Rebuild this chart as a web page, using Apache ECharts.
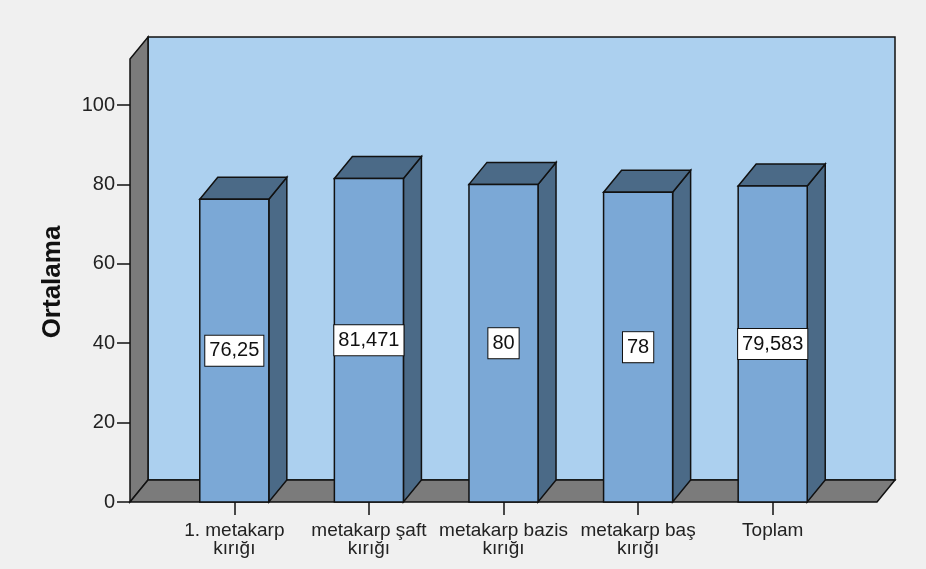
<!DOCTYPE html>
<html>
<head>
<meta charset="utf-8">
<script src="https://cdn.jsdelivr.net/npm/echarts@6/dist/echarts.min.js"></script>
<style>
  html, body { margin: 0; padding: 0; background: #f0f0f0; }
  #chart { width: 926px; height: 569px; }
</style>
</head>
<body>
<div id="chart"></div>
<script>
// Mean score per fracture group
const categories = [
  '1. metakarp\nkırığı',
  'metakarp şaft\nkırığı',
  'metakarp bazis\nkırığı',
  'metakarp baş\nkırığı',
  'Toplam'
];
const means = [76.25, 81.471, 80, 78, 79.583];
const yAxisTitle = 'Ortalama';
const yMin = 0, yMax = 100, yStep = 20;

// 3D look: depth offset of the back planes
const DX = 18, DY = -22;
const FONT = 'Arial, "Liberation Sans", sans-serif';

const COLORS = {
  wallBack: '#acd0ef',
  wallSide: '#7b7b7b',
  barFront: '#7ba8d6',
  barDark: '#4b6a87',
  line: '#111'
};

function renderWalls(params, api) {
  const cs = params.coordSys;
  const x0 = cs.x - 37;                 // front-left corner
  const x1 = cs.x + cs.width + 37;      // front-right corner
  const yBot = api.coord([0, yMin])[1];
  const yTop = api.coord([0, yMax])[1] - 46;
  const lw = 1.5;
  return {
    type: 'group',
    children: [
      { type: 'polygon', shape: { points: [[x0 + DX, yTop + DY], [x1 + DX, yTop + DY], [x1 + DX, yBot + DY], [x0 + DX, yBot + DY]] },
        style: { fill: COLORS.wallBack, stroke: COLORS.line, lineWidth: lw } },
      { type: 'polygon', shape: { points: [[x0, yTop], [x0 + DX, yTop + DY], [x0 + DX, yBot + DY], [x0, yBot]] },
        style: { fill: COLORS.wallSide, stroke: COLORS.line, lineWidth: lw } },
      { type: 'polygon', shape: { points: [[x0, yBot], [x0 + DX, yBot + DY], [x1 + DX, yBot + DY], [x1, yBot]] },
        style: { fill: COLORS.wallSide, stroke: COLORS.line, lineWidth: lw } }
    ]
  };
}

function renderBar(params, api) {
  const idx = api.value(0);
  const v = api.value(1);
  const top = api.coord([idx, v]);
  const bot = api.coord([idx, 0]);
  const band = api.size([1, 0])[0];
  const w = band * 0.513;
  const xl = top[0] - w / 2, xr = top[0] + w / 2;
  const yt = top[1], yb = bot[1];
  const lw = 1.5;
  return {
    type: 'group',
    children: [
      { type: 'polygon', shape: { points: [[xr, yt], [xr + DX, yt + DY], [xr + DX, yb + DY], [xr, yb]] },
        style: { fill: COLORS.barDark, stroke: COLORS.line, lineWidth: lw } },
      { type: 'polygon', shape: { points: [[xl, yt], [xl + DX, yt + DY], [xr + DX, yt + DY], [xr, yt]] },
        style: { fill: COLORS.barDark, stroke: COLORS.line, lineWidth: lw } },
      { type: 'rect', shape: { x: xl, y: yt, width: w, height: yb - yt },
        style: { fill: COLORS.barFront, stroke: COLORS.line, lineWidth: lw } },
      { type: 'text', x: top[0], y: (yt + yb) / 2,
        style: {
          text: String(v).replace('.', ','),
          fill: '#111', fontSize: 20, fontFamily: FONT,
          align: 'center', verticalAlign: 'middle',
          backgroundColor: '#fff', borderColor: '#111', borderWidth: 1,
          padding: [5, 4, 5, 4]
        } }
    ]
  };
}

const chart = echarts.init(document.getElementById('chart'), null, { renderer: 'canvas' });
chart.setOption({
  animation: false,
  backgroundColor: '#f0f0f0',
  grid: { left: 167, right: 86, top: 105, bottom: 67 },
  xAxis: {
    type: 'category',
    data: categories,
    axisLine: { show: false },
    axisTick: { show: true, alignWithLabel: true, length: 13, lineStyle: { color: '#111', width: 1.5 } },
    axisLabel: { color: '#222', fontSize: 19, fontFamily: FONT, lineHeight: 18, margin: 20, interval: 0 },
    splitLine: { show: false }
  },
  yAxis: {
    type: 'value',
    min: yMin, max: yMax, interval: yStep,
    offset: 37,
    axisLine: { show: false },
    axisTick: { show: true, length: 13, lineStyle: { color: '#111', width: 1.5 } },
    axisLabel: { color: '#222', fontSize: 20, fontFamily: FONT, margin: 15 },
    splitLine: { show: false }
  },
  graphic: [{
    type: 'text', x: 53, y: 282, rotation: Math.PI / 2,
    style: { text: yAxisTitle, fill: '#111', fontSize: 26, fontWeight: 'bold', fontFamily: FONT,
             align: 'center', verticalAlign: 'middle' }
  }],
  series: [
    { type: 'custom', renderItem: renderWalls, data: [[0, 0]], z: 1, silent: true, clip: false },
    { type: 'custom', renderItem: renderBar, data: means.map((v, i) => [i, v]), z: 2, clip: false }
  ]
});
</script>
</body>
</html>
